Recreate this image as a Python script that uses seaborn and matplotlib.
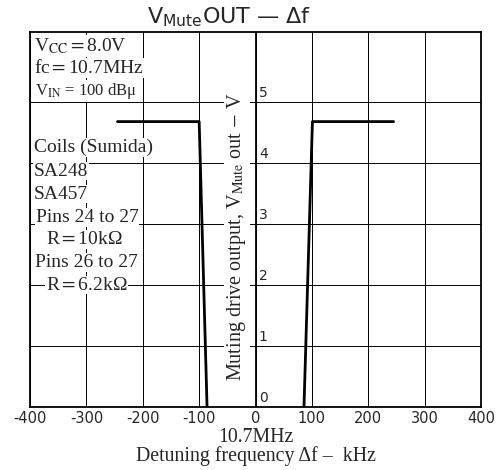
import seaborn as sns
import matplotlib.pyplot as plt
import pandas as pd

# donnees (kHz, V)
left_df = [-245, -100, -86]
left_v = [4.68, 4.68, 0.0]
right_df = [86, 101, 245]
right_v = [0.0, 4.68, 4.68]
x_ticks = [-400, -300, -200, -100, 0, 100, 200, 300, 400]
y_ticks = [0, 1, 2, 3, 4, 5]

data = pd.concat([
    pd.DataFrame({'df': left_df, 'v': left_v, 'side': 'left'}),
    pd.DataFrame({'df': right_df, 'v': right_v, 'side': 'right'}),
])

sns.set_style('white')
plt.rcParams['font.family'] = ['Liberation Serif', 'DejaVu Serif']
plt.rcParams['mathtext.fontset'] = 'stix'

fig = plt.figure(figsize=(5.02, 4.70), dpi=100)
ax = fig.add_axes([0.06, 0.134, 0.898, 0.798])

for side, grp in data.groupby('side'):
    sns.lineplot(x='df', y='v', data=grp, ax=ax, color='black', lw=2,
                 sort=False, legend=False, zorder=5)

ax.set_xlim(-400, 400)
ax.set_ylim(0, 6.15)
ax.set_xticks(x_ticks)
ax.set_xticklabels([str(t) for t in x_ticks], family='DejaVu Sans', fontsize=10.5)
ax.set_yticks(y_ticks)
ax.set_yticklabels([])
ax.tick_params(length=0, pad=3)
ax.grid(True, color='black', lw=0.7)
ax.axvline(0, color='black', lw=1.3, zorder=3)
for s in ax.spines.values():
    s.set_color('black')
    s.set_linewidth(1.3)

# etiquettes de l'axe y a droite de la ligne 0
for v in y_ticks:
    ax.text(6, v + 0.03, str(v), ha='left', va='bottom', family='DejaVu Sans', fontsize=10)

ax.text(-33, 2.79, r'Muting drive output, V$_{\rm Mute}$ out $-$ V', rotation=90,
        ha='center', va='center', fontsize=14.5, zorder=4,
        bbox=dict(facecolor='white', edgecolor='none', pad=1))

ax.set_xlabel('10.7MHz\nDetuning frequency Δf –  kHz', fontsize=14.3, labelpad=1, linespacing=0.95)
ax.set_ylabel('')

t = ax.set_title(r'V$_{\mathsf{Mute}}$OUT — Δf', family='DejaVu Sans', fontsize=16, pad=6, x=0.44)
t.set_math_fontfamily('dejavusans')

# bloc de conditions de mesure
notes = [
    (-394, 5.92, r'V$_{\rm CC}$$=$8.0V', 14),
    (-394, 5.56, r'fc$=$10.7MHz', 14),
    (-392, 5.18, r'V$_{\rm IN}$ = 100 dBμ', 12),
    (-394, 4.25, 'Coils (Sumida)', 14),
    (-394, 3.87, 'SA248', 14),
    (-394, 3.49, 'SA457', 14),
    (-390, 3.11, 'Pins 24 to 27', 14),
    (-372, 2.75, r'R$=$10kΩ', 14),
    (-392, 2.37, 'Pins 26 to 27', 14),
    (-372, 2.0, r'R$=$6.2kΩ', 14),
]
for x, y, s, fs in notes:
    ax.text(x, y, s, ha='left', va='center', fontsize=fs, zorder=4,
            bbox=dict(facecolor='white', edgecolor='none', pad=0.5))

fig.savefig('out.png', dpi=100)
